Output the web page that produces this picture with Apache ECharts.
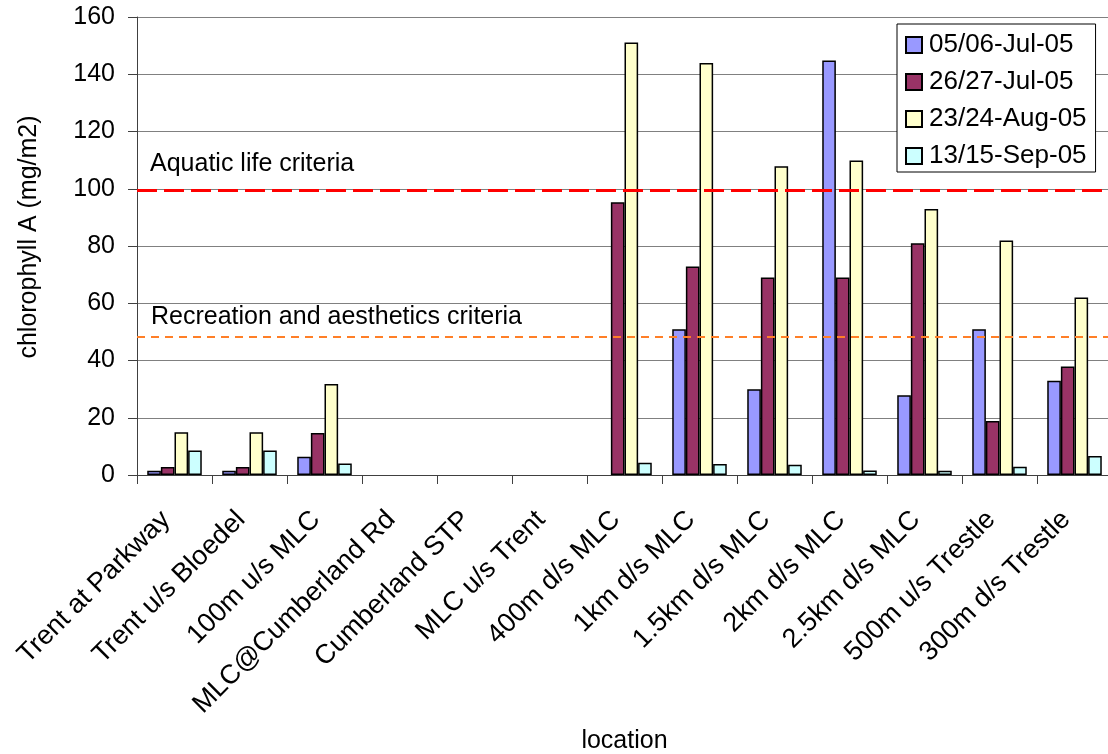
<!DOCTYPE html>
<html>
<head>
<meta charset="utf-8">
<title>chlorophyll A by location</title>
<script src="https://cdn.jsdelivr.net/npm/echarts@6/dist/echarts.min.js"></script>
<style>
  html, body { margin: 0; padding: 0; background: #ffffff; }
  #chart { width: 1108px; height: 754px; }
</style>
</head>
<body>
<div id="chart"></div>
<script>
// Sampling locations along the creek
const categories = [
  'Trent at Parkway', 'Trent u/s Bloedel', '100m u/s MLC', 'MLC@Cumberland Rd',
  'Cumberland STP', 'MLC u/s Trent', '400m d/s MLC', '1km d/s MLC',
  '1.5km d/s MLC', '2km d/s MLC', '2.5km d/s MLC', '500m u/s Trestle', '300m d/s Trestle'
];

// Sampling dates (series names)
const seriesNames = ['05/06-Jul-05', '26/27-Jul-05', '23/24-Aug-05', '13/15-Sep-05'];

// chlorophyll A (mg/m2); '-' = not sampled
const julEarly = [1.5, 1.5, 6.4, '-', '-', '-', '-', 50.9, 30.0, 144.8, 27.9, 50.9, 32.9];
const julLate  = [2.8, 2.8, 14.7, '-', '-', '-', 95.3, 72.8, 69.0, 69.0, 81.0, 18.9, 37.9];
const aug      = [14.9, 14.9, 31.8, '-', '-', '-', 151.1, 143.9, 107.9, 109.9, 92.9, 81.9, 62.0];
const sep      = [8.6, 8.6, 4.0, '-', '-', '-', 4.3, 3.8, 3.6, 1.6, 1.5, 2.9, 6.6];

// Criteria thresholds (mg/m2)
const aquaticLifeCriterion = 99.5;
const recreationCriterion = 48.3;

// Value axis range
const yMin = 0, yMax = 160, yStep = 20;

const seriesColors = ['#9999FF', '#993366', '#FFFFCC', '#CCFFFF'];
const seriesValues = [julEarly, julLate, aug, sep];
const FONT = '"Liberation Sans", Arial, sans-serif';

const chart = echarts.init(document.getElementById('chart'), null, { renderer: 'canvas' });

const series = seriesNames.map((name, i) => ({
  name: name,
  type: 'bar',
  data: seriesValues[i],
  barGap: '0%',
  barCategoryGap: '27.3%',
  itemStyle: { color: seriesColors[i], borderColor: '#000000', borderWidth: 1.5 },
  emphasis: { disabled: true },
  animation: false
}));

// Criteria lines with their captions
series[0].markLine = {
  silent: true,
  symbol: 'none',
  animation: false,
  data: [
    {
      yAxis: aquaticLifeCriterion,
      lineStyle: { color: '#FF0000', width: 3, type: [20, 7] },
      label: {
        show: true, position: 'insideStartTop', formatter: 'Aquatic life criteria',
        color: '#000', fontFamily: FONT, fontSize: 25, distance: [13, 14]
      }
    },
    {
      yAxis: recreationCriterion,
      lineStyle: { color: '#FF7F27', width: 2, type: [8, 6] },
      label: {
        show: true, position: 'insideStartTop', formatter: 'Recreation and aesthetics criteria',
        color: '#000', fontFamily: FONT, fontSize: 25, distance: [14, 7]
      }
    }
  ]
};

chart.setOption({
  backgroundColor: '#ffffff',
  animation: false,
  textStyle: { fontFamily: FONT },
  grid: {
    left: 137, top: 17, width: 975, height: 458,
    containLabel: false, outerBoundsMode: 'none'
  },
  legend: {
    data: seriesNames,
    orient: 'vertical',
    left: 897,
    top: 24,
    backgroundColor: '#ffffff',
    borderColor: '#000000',
    borderWidth: 1,
    padding: [8, 9, 3, 8],
    itemWidth: 16,
    itemHeight: 16,
    itemGap: 11,
    icon: 'rect',
    textStyle: { fontSize: 26, color: '#000', fontFamily: FONT, padding: [0, 0, 0, 2] }
  },
  xAxis: {
    type: 'category',
    data: categories,
    name: 'location',
    nameLocation: 'middle',
    nameGap: 254,
    nameTextStyle: { fontSize: 25, color: '#000', fontFamily: FONT },
    axisLine: { lineStyle: { color: '#404040', width: 1 } },
    axisTick: { show: true, length: 9, lineStyle: { color: '#404040' } },
    axisLabel: {
      interval: 0, rotate: 45, fontSize: 27, color: '#000', fontFamily: FONT,
      margin: 32, padding: [0, 12, 0, 0]
    },
    splitLine: { show: false }
  },
  yAxis: {
    type: 'value',
    min: yMin,
    max: yMax,
    interval: yStep,
    name: 'chlorophyll A (mg/m2)',
    nameLocation: 'middle',
    nameGap: 95,
    nameTextStyle: { fontSize: 25, color: '#000', fontFamily: FONT, padding: [0, 0, 0, 18] },
    axisLine: { show: true, lineStyle: { color: '#404040', width: 1 } },
    axisTick: { show: true, length: 9, lineStyle: { color: '#404040' } },
    axisLabel: { fontSize: 25, color: '#000', fontFamily: FONT, margin: 22 },
    splitLine: { show: true, lineStyle: { color: '#808080', width: 1 } }
  },
  series: series
});
</script>
</body>
</html>
